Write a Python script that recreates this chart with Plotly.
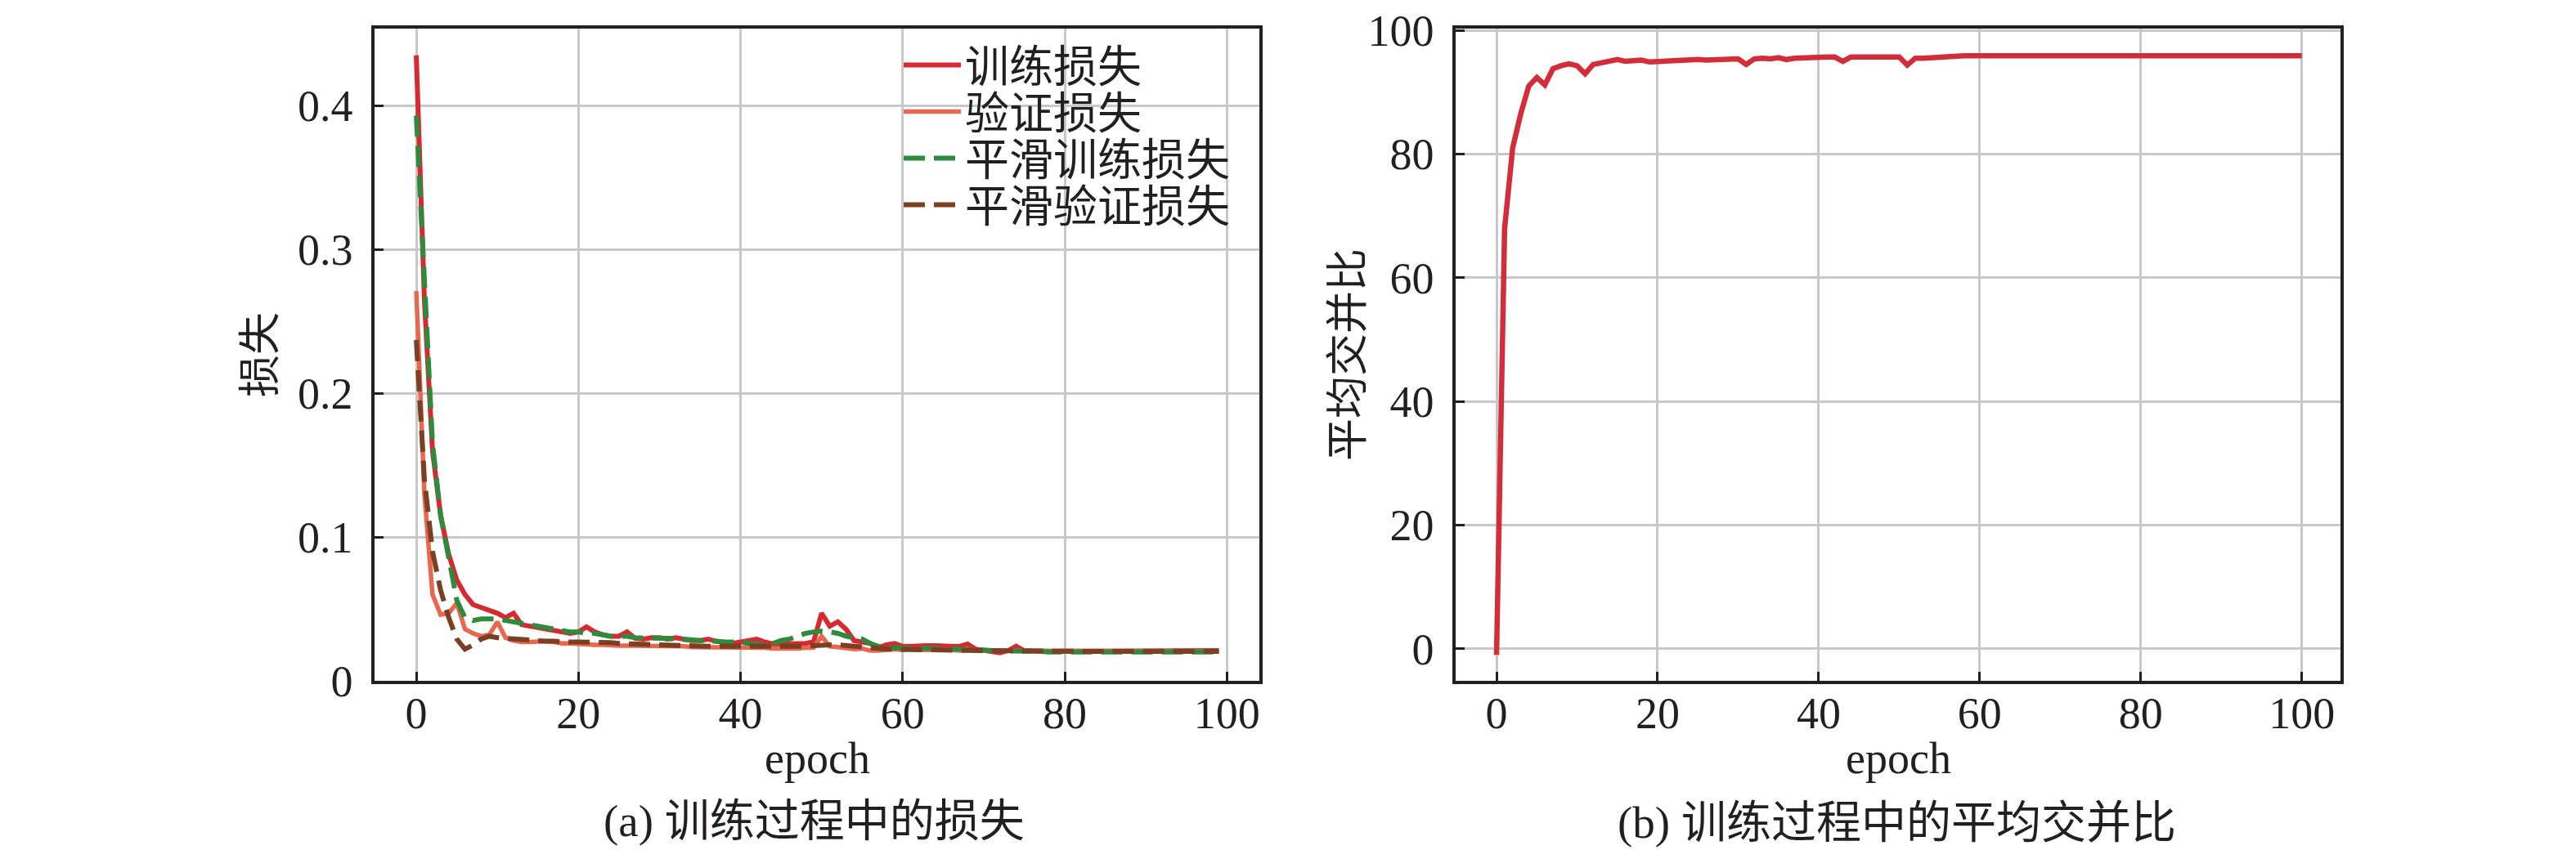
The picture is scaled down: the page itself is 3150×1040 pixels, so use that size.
import plotly.graph_objects as go

epochs = list(range(100))
iou_epochs = list(range(101))

train_loss = [0.435, 0.265, 0.160, 0.115, 0.088, 0.070, 0.060, 0.053, 0.051, 0.049,
              0.047, 0.044, 0.047, 0.039, 0.038, 0.037, 0.036, 0.035, 0.034, 0.033,
              0.034, 0.0375, 0.034, 0.032, 0.031, 0.031, 0.034, 0.0295, 0.029, 0.030,
              0.030, 0.029, 0.030, 0.029, 0.028, 0.028, 0.029, 0.0275, 0.027, 0.026,
              0.027, 0.028, 0.029, 0.027, 0.0256, 0.0256, 0.0256, 0.0256, 0.026, 0.027,
              0.047, 0.038, 0.041, 0.036, 0.028, 0.027, 0.026, 0.023, 0.025, 0.026,
              0.024, 0.024, 0.0245, 0.0245, 0.0245, 0.024, 0.024, 0.024, 0.0256, 0.022,
              0.021, 0.0205, 0.0195, 0.021, 0.024, 0.021, 0.0205, 0.0205, 0.0205, 0.0205,
              0.021, 0.021, 0.0205, 0.021, 0.021, 0.0205, 0.021, 0.021, 0.0205, 0.021,
              0.021, 0.0205, 0.021, 0.021, 0.0205, 0.021, 0.021, 0.0205, 0.021, 0.021]

val_loss = [0.271, 0.130, 0.060, 0.046, 0.047, 0.054, 0.036, 0.033, 0.031, 0.032,
            0.041, 0.030, 0.028, 0.027, 0.027, 0.0275, 0.0275, 0.027, 0.026, 0.026,
            0.0256, 0.025, 0.025, 0.025, 0.0245, 0.0245, 0.0245, 0.0245, 0.024, 0.0245,
            0.024, 0.024, 0.024, 0.024, 0.0235, 0.0235, 0.0236, 0.0236, 0.0235, 0.0235,
            0.0236, 0.023, 0.0235, 0.023, 0.0225, 0.0225, 0.022, 0.0225, 0.023, 0.023,
            0.031, 0.024, 0.0235, 0.023, 0.022, 0.0225, 0.021, 0.021, 0.0215, 0.022,
            0.0215, 0.022, 0.0215, 0.0215, 0.022, 0.0215, 0.0215, 0.021, 0.0215, 0.021,
            0.021, 0.021, 0.0205, 0.021, 0.0205, 0.0205, 0.0205, 0.0205, 0.0205, 0.0205,
            0.0205, 0.0205, 0.0205, 0.0205, 0.0205, 0.0205, 0.0205, 0.0205, 0.0205, 0.0205,
            0.0205, 0.0205, 0.0205, 0.0205, 0.0205, 0.0205, 0.0205, 0.0205, 0.0205, 0.0205]

smooth_train = [0.393, 0.270, 0.165, 0.115, 0.085, 0.056, 0.044, 0.042, 0.043, 0.043,
                0.043, 0.042, 0.041, 0.040, 0.039, 0.038, 0.037, 0.036, 0.035, 0.034,
                0.034, 0.033, 0.033, 0.032, 0.031, 0.031, 0.031, 0.030, 0.030, 0.030,
                0.0295, 0.0295, 0.029, 0.029, 0.0285, 0.028, 0.028, 0.0275, 0.027, 0.027,
                0.027, 0.026, 0.0255, 0.025, 0.026, 0.028, 0.029, 0.031, 0.033, 0.034,
                0.0345, 0.034, 0.033, 0.031, 0.030, 0.029, 0.026, 0.024, 0.023, 0.023,
                0.023, 0.0228, 0.0228, 0.0228, 0.0225, 0.0225, 0.0222, 0.022, 0.022, 0.022,
                0.0215, 0.021, 0.021, 0.0208, 0.0205, 0.0205, 0.0205, 0.0205, 0.020, 0.020,
                0.020, 0.020, 0.020, 0.020, 0.020, 0.020, 0.020, 0.020, 0.020, 0.020,
                0.020, 0.020, 0.020, 0.020, 0.020, 0.020, 0.020, 0.020, 0.020, 0.020]

smooth_val = [0.237, 0.140, 0.090, 0.063, 0.044, 0.029, 0.022, 0.025, 0.029, 0.031,
              0.030, 0.0295, 0.029, 0.0285, 0.028, 0.028, 0.0275, 0.0275, 0.027, 0.027,
              0.027, 0.027, 0.0268, 0.0267, 0.0265, 0.026, 0.026, 0.0258, 0.0255, 0.0252,
              0.025, 0.025, 0.0248, 0.0245, 0.0245, 0.0242, 0.024, 0.024, 0.024, 0.024,
              0.024, 0.0238, 0.0236, 0.0235, 0.0235, 0.0235, 0.0235, 0.0238, 0.024, 0.0245,
              0.025, 0.025, 0.025, 0.0245, 0.024, 0.023, 0.0225, 0.0222, 0.022, 0.022,
              0.022, 0.0218, 0.0217, 0.0216, 0.0215, 0.0214, 0.0213, 0.0212, 0.0211, 0.021,
              0.021, 0.0208, 0.0207, 0.0206, 0.0205, 0.0205, 0.0205, 0.0205, 0.0205, 0.0205,
              0.0205, 0.0205, 0.0205, 0.0205, 0.0205, 0.0205, 0.0205, 0.0205, 0.0205, 0.0205,
              0.0205, 0.0205, 0.0205, 0.0205, 0.0205, 0.0205, 0.0205, 0.0205, 0.0205, 0.0205]

miou = [-1.0, 68.0, 81.0, 86.5, 91.0, 92.4, 91.2, 93.8, 94.3, 94.6,
        94.3, 93.0, 94.5, 94.8, 95.2, 95.3, 95.0, 95.1, 95.2, 94.9,
        95.0, 95.1, 95.2, 95.3, 95.2, 95.3, 95.2, 95.3, 95.4, 95.3,
        95.4, 94.5, 95.4, 95.5, 95.4, 95.6, 95.3, 95.5, 95.6, 95.7,
        95.6, 95.7, 95.7, 95.0, 95.7, 95.7, 95.7, 95.8, 95.8, 95.7,
        95.7, 94.4, 95.5, 95.5, 95.6, 95.8, 95.9, 96.0, 95.9, 95.9,
        95.9, 95.9, 96.0, 95.9, 95.9, 95.8, 95.8, 95.9, 95.9, 95.9,
        95.9, 95.9, 95.9, 95.9, 95.9, 95.9, 95.9, 95.9, 95.9, 95.9,
        95.9, 95.9, 95.9, 95.9, 95.9, 95.9, 95.9, 95.9, 95.9, 95.9,
        95.9, 95.9, 95.9, 95.9, 95.9, 95.9, 95.9, 95.9, 95.9, 95.9,
        95.9]

loss_names = ["训练损失", "验证损失", "平滑训练损失", "平滑验证损失"]
loss_ticks = [0, 0.1, 0.2, 0.3, 0.4]
epoch_ticks = [0, 20, 40, 60, 80, 100]
iou_ticks = [0, 20, 40, 60, 80, 100]

W, H = 3150, 1040
INK = "#231f20"
FONT = "Liberation Serif, Noto Sans CJK SC"

fig = go.Figure()
fig.add_trace(go.Scatter(x=epochs, y=train_loss, name=loss_names[0], mode="lines",
                         line=dict(color="#d62a33", width=6), legend="legend"))
fig.add_trace(go.Scatter(x=epochs, y=val_loss, name=loss_names[1], mode="lines",
                         line=dict(color="#e8684f", width=5.5), legend="legend2"))
fig.add_trace(go.Scatter(x=epochs, y=smooth_train, name=loss_names[2], mode="lines",
                         line=dict(color="#2f8a3c", width=6, dash="26px,11px"),
                         legend="legend3"))
fig.add_trace(go.Scatter(x=epochs, y=smooth_val, name=loss_names[3], mode="lines",
                         line=dict(color="#7b3f22", width=6, dash="26px,11px"),
                         legend="legend4"))
fig.add_trace(go.Scatter(x=iou_epochs, y=miou, mode="lines", showlegend=False,
                         line=dict(color="#d22d38", width=6.5),
                         xaxis="x2", yaxis="y2"))

axis_style = dict(showline=True, linecolor=INK, linewidth=3.5, mirror=True,
                  ticks="inside", ticklen=11, tickwidth=3, tickcolor=INK,
                  showgrid=True, gridcolor="#c8c8c8", gridwidth=3, zeroline=False,
                  automargin=False,
                  tickfont=dict(family=FONT, size=54, color=INK))

ydom = [(H - 825) / H, (H - 27) / H]


def legend_row(y):
    return dict(x=1092 / W, y=(H - y) / H, xanchor="left", yanchor="middle",
                bgcolor="rgba(0,0,0,0)", borderwidth=0, itemwidth=70,
                font=dict(family=FONT, size=54, color=INK))


fig.update_layout(
    width=W, height=H, autosize=False,
    margin=dict(l=0, r=0, t=0, b=0, pad=0),
    paper_bgcolor="white", plot_bgcolor="white",
    xaxis=dict(domain=[450 / W, 1532 / W], range=[-5.15, 104.0],
               tickvals=epoch_ticks, ticklabelstandoff=-11, **axis_style),
    yaxis=dict(domain=ydom, range=[0, 0.4535], tickvals=loss_ticks,
               ticklabelstandoff=12, **axis_style),
    xaxis2=dict(domain=[1772 / W, 2854 / W], range=[-5.08, 104.8],
                tickvals=epoch_ticks, anchor="y2", ticklabelstandoff=-11, **axis_style),
    yaxis2=dict(domain=ydom, range=[-5.2, 100.3], tickvals=iou_ticks,
                anchor="x2", ticklabelstandoff=12, **axis_style),
    legend=legend_row(72),
    legend2=legend_row(129),
    legend3=legend_row(186),
    legend4=legend_row(243),
    showlegend=True,
)

# white legend panel over the grid
fig.add_shape(type="rect", xref="paper", yref="paper", layer="between",
              x0=994 / W, x1=1528 / W, y0=(H - 297) / H, y1=(H - 40) / H,
              fillcolor="white", line=dict(width=0))


def note(text, x, y, size=52, angle=0):
    fig.add_annotation(text=text, x=x / W, y=(H - y) / H, xref="paper", yref="paper",
                       showarrow=False, textangle=angle, xanchor="center", yanchor="middle",
                       font=dict(family=FONT, size=size, color=INK))


note("epoch", 991, 920, size=54)
note("epoch", 2313, 920, size=54)
note("损失", 310, 426, angle=-90)
note("平均交并比", 1640, 426, angle=-90)
note("(a) 训练过程中的损失", 988, 996, size=55)
note("(b) 训练过程中的平均交并比", 2311, 998, size=55)

fig.write_html("out.html")
